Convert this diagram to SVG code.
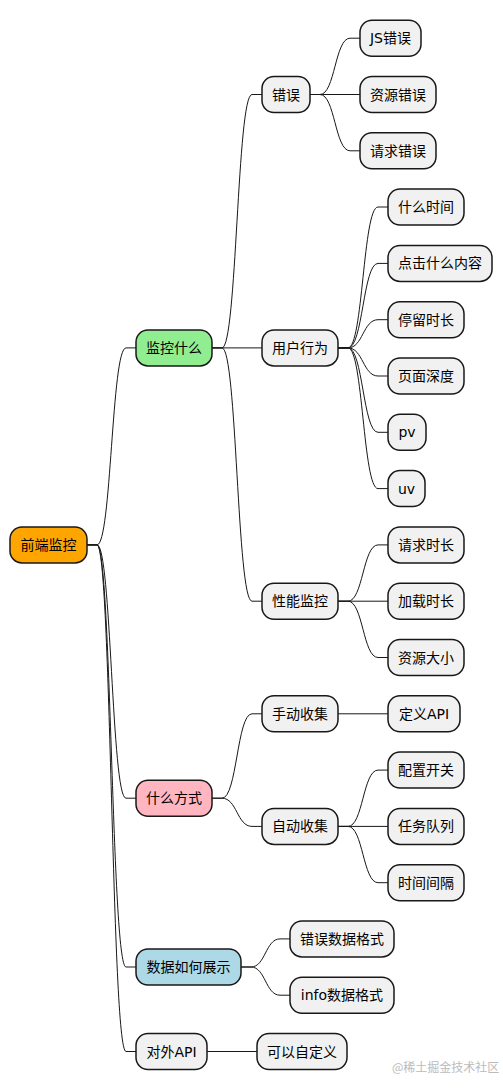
<svg xmlns="http://www.w3.org/2000/svg" width="503" height="1090" viewBox="0 0 503 1090">
<style>
.n rect{fill:#F1F1F1;stroke:#181818;stroke-width:1.5}
.n text{font-family:"DejaVu Sans","Noto Sans CJK SC",sans-serif;font-size:14px;fill:#000;text-anchor:middle}
#root rect{fill:#FFA500}
#n_jk rect{fill:#90EE90}
#n_fs rect{fill:#FFB6C1}
#n_zs rect{fill:#ADD8E6}
#edges path{fill:none;stroke:#181818;stroke-width:1}
.wm{font-family:"Noto Sans CJK SC",sans-serif;font-size:12px;fill:#BBBBBB}
</style>
<rect width="503" height="1090" fill="#FFFFFF"/>
<g id="edges">
<path d="M87,544.9 H97 C111.5,544.9 111.5,347.9 126,347.9 H136"/>
<path d="M87,544.9 H97 C111.5,544.9 111.5,798.2 126,798.2 H136"/>
<path d="M87,544.9 H97 C111.5,544.9 111.5,967 126,967 H136"/>
<path d="M87,544.9 H97 C111.5,544.9 111.5,1051.5 126,1051.5 H136"/>
<path d="M212,347.9 H222 C237,347.9 237,94.5 252,94.5 H262"/>
<path d="M212,347.9 H262"/>
<path d="M212,347.9 H222 C237,347.9 237,601.2 252,601.2 H262"/>
<path d="M310,94.5 H320 C335,94.5 335,38.2 350,38.2 H360"/>
<path d="M310,94.5 H360"/>
<path d="M310,94.5 H320 C335,94.5 335,150.8 350,150.8 H360"/>
<path d="M338,347.9 H348 C363,347.9 363,207 378,207 H388"/>
<path d="M338,347.9 H348 C363,347.9 363,263.4 378,263.4 H388"/>
<path d="M338,347.9 H348 C363,347.9 363,319.7 378,319.7 H388"/>
<path d="M338,347.9 H348 C363,347.9 363,376 378,376 H388"/>
<path d="M338,347.9 H348 C363,347.9 363,432.3 378,432.3 H388"/>
<path d="M338,347.9 H348 C363,347.9 363,488.6 378,488.6 H388"/>
<path d="M338,601.2 H348 C363,601.2 363,544.9 378,544.9 H388"/>
<path d="M338,601.2 H388"/>
<path d="M338,601.2 H348 C363,601.2 363,657.5 378,657.5 H388"/>
<path d="M212,798.2 H222 C237,798.2 237,713.8 252,713.8 H262"/>
<path d="M212,798.2 H222 C237,798.2 237,826.4 252,826.4 H262"/>
<path d="M338,713.8 H388"/>
<path d="M338,826.4 H348 C363,826.4 363,770.1 378,770.1 H388"/>
<path d="M338,826.4 H388"/>
<path d="M338,826.4 H348 C363,826.4 363,882.7 378,882.7 H388"/>
<path d="M241,967 H251 C265.5,967 265.5,938.9 280,938.9 H290"/>
<path d="M241,967 H251 C265.5,967 265.5,995.2 280,995.2 H290"/>
<path d="M207,1051.5 H257"/>
</g>
<g id="root" class="n"><rect x="10" y="526.9" width="77" height="36" rx="12"/><text x="48.5" y="549.9">前端监控</text></g>
<g id="n_jk" class="n"><rect x="136" y="329.9" width="76" height="36" rx="12"/><text x="174" y="352.9">监控什么</text></g>
<g id="n_cw" class="n"><rect x="262" y="76.5" width="48" height="36" rx="12"/><text x="286" y="99.5">错误</text></g>
<g id="n_js" class="n"><rect x="360" y="20.2" width="61" height="36" rx="12"/><text x="390.5" y="43.2">JS错误</text></g>
<g id="n_zy" class="n"><rect x="360" y="76.5" width="76" height="36" rx="12"/><text x="398" y="99.5">资源错误</text></g>
<g id="n_qq" class="n"><rect x="360" y="132.8" width="76" height="36" rx="12"/><text x="398" y="155.8">请求错误</text></g>
<g id="n_yh" class="n"><rect x="262" y="329.9" width="76" height="36" rx="12"/><text x="300" y="352.9">用户行为</text></g>
<g id="n_sj" class="n"><rect x="388" y="189" width="76" height="36" rx="12"/><text x="426" y="212">什么时间</text></g>
<g id="n_dj" class="n"><rect x="388" y="245.4" width="104" height="36" rx="12"/><text x="440" y="268.4">点击什么内容</text></g>
<g id="n_tl" class="n"><rect x="388" y="301.7" width="76" height="36" rx="12"/><text x="426" y="324.7">停留时长</text></g>
<g id="n_ym" class="n"><rect x="388" y="358" width="76" height="36" rx="12"/><text x="426" y="381">页面深度</text></g>
<g id="n_pv" class="n"><rect x="388" y="414.3" width="38" height="36" rx="12"/><text x="407" y="437.3">pv</text></g>
<g id="n_uv" class="n"><rect x="388" y="470.6" width="37" height="36" rx="12"/><text x="406.5" y="493.6">uv</text></g>
<g id="n_xn" class="n"><rect x="262" y="583.2" width="76" height="36" rx="12"/><text x="300" y="606.2">性能监控</text></g>
<g id="n_qs" class="n"><rect x="388" y="526.9" width="76" height="36" rx="12"/><text x="426" y="549.9">请求时长</text></g>
<g id="n_jz" class="n"><rect x="388" y="583.2" width="76" height="36" rx="12"/><text x="426" y="606.2">加载时长</text></g>
<g id="n_dx" class="n"><rect x="388" y="639.5" width="76" height="36" rx="12"/><text x="426" y="662.5">资源大小</text></g>
<g id="n_fs" class="n"><rect x="136" y="780.2" width="76" height="36" rx="12"/><text x="174" y="803.2">什么方式</text></g>
<g id="n_sd" class="n"><rect x="262" y="695.8" width="76" height="36" rx="12"/><text x="300" y="718.8">手动收集</text></g>
<g id="n_api" class="n"><rect x="388" y="695.8" width="72" height="36" rx="12"/><text x="424" y="718.8">定义API</text></g>
<g id="n_zd" class="n"><rect x="262" y="808.4" width="76" height="36" rx="12"/><text x="300" y="831.4">自动收集</text></g>
<g id="n_pz" class="n"><rect x="388" y="752.1" width="76" height="36" rx="12"/><text x="426" y="775.1">配置开关</text></g>
<g id="n_rw" class="n"><rect x="388" y="808.4" width="76" height="36" rx="12"/><text x="426" y="831.4">任务队列</text></g>
<g id="n_jg" class="n"><rect x="388" y="864.7" width="76" height="36" rx="12"/><text x="426" y="887.7">时间间隔</text></g>
<g id="n_zs" class="n"><rect x="136" y="949" width="105" height="36" rx="12"/><text x="188.5" y="972">数据如何展示</text></g>
<g id="n_cs" class="n"><rect x="290" y="920.9" width="104" height="36" rx="12"/><text x="342" y="943.9">错误数据格式</text></g>
<g id="n_if" class="n"><rect x="290" y="977.2" width="104" height="36" rx="12"/><text x="342" y="1000.2">info数据格式</text></g>
<g id="n_dw" class="n"><rect x="136" y="1033.5" width="71" height="36" rx="12"/><text x="171.5" y="1056.5">对外API</text></g>
<g id="n_zdy" class="n"><rect x="257" y="1033.5" width="90" height="36" rx="12"/><text x="302" y="1056.5">可以自定义</text></g>
<text class="wm" x="392" y="1072">@稀土掘金技术社区</text>
</svg>
